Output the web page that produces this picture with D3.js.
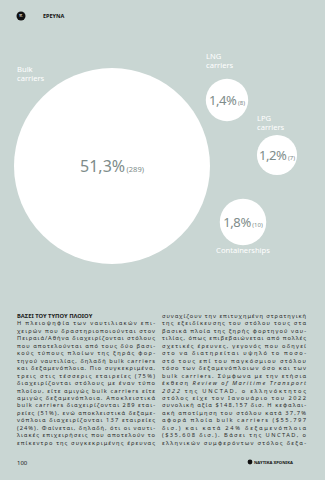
<!DOCTYPE html>
<html>
<head>
<meta charset="utf-8">
<script src="https://cdn.jsdelivr.net/npm/d3@7"></script>
<style>
  body { margin: 0; background: #c9d6d3; }
  svg { display: block; }
</style>
</head>
<body>
<div id="chart"></div>
<script>
// data
var shipTypes = ["Bulk carriers", "LNG carriers", "LPG carriers", "Containerships"];
var sharePct = [51.3, 1.4, 1.2, 1.8];
var companyCount = [289, 8, 7, 10];

// body text, one entry per printed line
var leftLines = [
  "Η πλειοψηφία των ναυτιλιακών επι-",
  "χειρών που δραστηριοποιούνται στον",
  "Πειραιά/Αθήνα διαχειρίζονται στόλους",
  "που αποτελούνται από τους δύο βασι-",
  "κούς τύπους πλοίων της ξηράς φορ-",
  "τηγού ναυτιλίας, δηλαδή bulk carriers",
  "και δεξαμενόπλοια. Πιο συγκεκριμένα,",
  "τρεις στις τέσσερις εταιρείες (75%)",
  "διαχειρίζονται στόλους με έναν τύπο",
  "πλοίου, είτε αμιγώς bulk carriers είτε",
  "αμιγώς δεξαμενόπλοια. Αποκλειστικά",
  "bulk carriers διαχειρίζονται 289 εται-",
  "ρείες (51%), ενώ αποκλειστικά δεξαμε-",
  "νόπλοια διαχειρίζονται 137 εταιρείες",
  "(24%). Φαίνεται, δηλαδή, ότι οι ναυτι-",
  "λιακές επιχειρήσεις που αποτελούν το",
  "επίκεντρο της συγκεκριμένης έρευνας"
];
var rightLines = [
  "συναχίζουν την επιτυχημένη στρατηγική",
  "της εξειδίκευσης του στόλου τους στα",
  "βασικά πλοία της ξηρής φορτηγού ναυ-",
  "τιλίας, όπως επιβεβαιώνεται από πολλές",
  "σχετικές έρευνες, γεγονός που οδηγεί",
  "στο να διατηρείται υψηλό το ποσο-",
  "στό τους επί του παγκόσμιου στόλου",
  "τόσο των δεξαμενόπλοιων όσο και των",
  "bulk carriers. Σύμφωνα με την ετήσια",
  "έκθεση *Review of Maritime Transport*",
  "*2022* της UNCTAD, ο ελληνόκτητος",
  "στόλος είχε τον Ιανουάριο του 2022",
  "συνολική αξία $148,157 δισ. Η κεφαλαι-",
  "ακή αποτίμηση του στόλου κατά 37,7%",
  "αφορά πλοία bulk carriers ($55,797",
  "δισ.) και κατά 24% δεξαμενόπλοια",
  "($35,608 δισ.). Βάσει της UNCTAD, ο",
  "ελληνικών συμφερόντων στόλος δεξα-"
];
var sectionTitle = "ΒΑΣΕΙ ΤΟΥ ΤΥΠΟΥ ΠΛΟΙΟΥ";

// layout of the bubbles (hand placed, like the printed page)
var bubbleX = [112, 227, 277, 243];
var bubbleY = [166, 100, 155, 222];

var width = 325, height = 480;
var grey = "#7e8c8a";
var font = "'Noto Sans', 'DejaVu Sans', sans-serif";

var svg = d3.select("#chart")
    .append("svg")
    .attr("width", width)
    .attr("height", height)
    .style("font-family", font);

svg.append("rect")
    .attr("width", width)
    .attr("height", height)
    .attr("fill", "#c9d6d3");

// header
svg.append("circle").attr("cx", 21).attr("cy", 16).attr("r", 4.5).attr("fill", "#111");
svg.append("text").attr("x", 21).attr("y", 17.3).attr("text-anchor", "middle")
    .attr("fill", "#fff").style("font-size", "2.6px").style("font-weight", "bold").text("ΥΓ.");
svg.append("text").attr("x", 43).attr("y", 18).attr("fill", "#111")
    .style("font-size", "5.5px").style("font-weight", "bold").text("ΕΡΕΥΝΑ");

// radius scale: area-like, small ones kept readable
var rScale = d3.scaleSqrt()
    .domain([0, d3.max(sharePct)])
    .range([6, 98]);

var rows = shipTypes.map(function(name, i){
    return { name: name, pct: sharePct[i], count: companyCount[i], x: bubbleX[i], y: bubbleY[i] };
});

var bubbles = svg.selectAll(".bubble")
    .data(rows)
    .enter()
    .append("g")
    .attr("class", "bubble")
    .attr("transform", function(d){ return "translate(" + d.x + "," + d.y + ")"; });

bubbles.append("circle")
    .attr("r", function(d){ return rScale(d.pct); })
    .attr("fill", "#fff");

var pctLabel = bubbles.append("text")
    .attr("text-anchor", "middle")
    .attr("x", 0)
    .attr("y", function(d, i){ return i === 0 ? 5.5 : 4.5; })
    .attr("fill", grey);

pctLabel.append("tspan")
    .style("font-size", function(d, i){ return i === 0 ? "16px" : "13px"; })
    .style("letter-spacing", function(d, i){ return i === 0 ? "0px" : "-0.4px"; })
    .text(function(d){ return d3.format(".1f")(d.pct).replace(".", ",") + "%"; });
pctLabel.append("tspan")
    .attr("dx", 1.5)
    .style("font-size", function(d, i){ return i === 0 ? "7.5px" : "6px"; })
    .text(function(d){ return "(" + d.count + ")"; });

// category names, one text per printed line
var nameStyle = [
    { x: 17,  y: 72,  anchor: "start" },
    { x: 206, y: 59,  anchor: "start" },
    { x: 257, y: 121, anchor: "start" },
    { x: 243, y: 253, anchor: "middle" }
];
shipTypes.forEach(function(name, i){
    var s = nameStyle[i];
    var parts = name === "Containerships" ? [name] : name.split(" ");
    parts.forEach(function(p, j){
        svg.append("text")
            .attr("x", s.x)
            .attr("y", s.y + j * 9)
            .attr("text-anchor", s.anchor)
            .attr("fill", "#fff")
            .style("font-size", "7.6px")
            .text(p);
    });
});

// body columns, justified with textLength
var lineH = 7.45;
function writeLine(x, y, w, line, justify){
    var t = svg.append("text")
        .attr("x", x)
        .attr("y", y)
        .attr("fill", "#2b2b2b")
        .style("font-size", "5.7px");
    if (justify) t.attr("textLength", w).attr("lengthAdjust", "spacing");
    line.split("*").forEach(function(seg, k){
        if (seg === "") return;
        t.append("tspan").style("font-style", k % 2 ? "italic" : "normal").text(seg);
    });
}

svg.append("text")
    .attr("x", 17).attr("y", 318)
    .attr("fill", "#1a1a1a")
    .style("font-size", "5.8px")
    .style("font-weight", "bold")
    .text(sectionTitle);

leftLines.forEach(function(l, i){ writeLine(17, 318 + (i + 1) * lineH, 138, l, true); });
rightLines.forEach(function(l, i){ writeLine(162, 318 + i * lineH, 144, l, true); });

// footer
svg.append("text").attr("x", 17).attr("y", 465).attr("fill", "#1a1a1a")
    .style("font-size", "6px").text("100");
svg.append("circle").attr("cx", 250).attr("cy", 462).attr("r", 2.4).attr("fill", "#111");
svg.append("text").attr("x", 254).attr("y", 464).attr("fill", "#111")
    .style("font-size", "4.2px").style("font-weight", "bold").text("ΝΑΥΤΙΚΑ ΧΡΟΝΙΚΑ");
</script>
</body>
</html>
